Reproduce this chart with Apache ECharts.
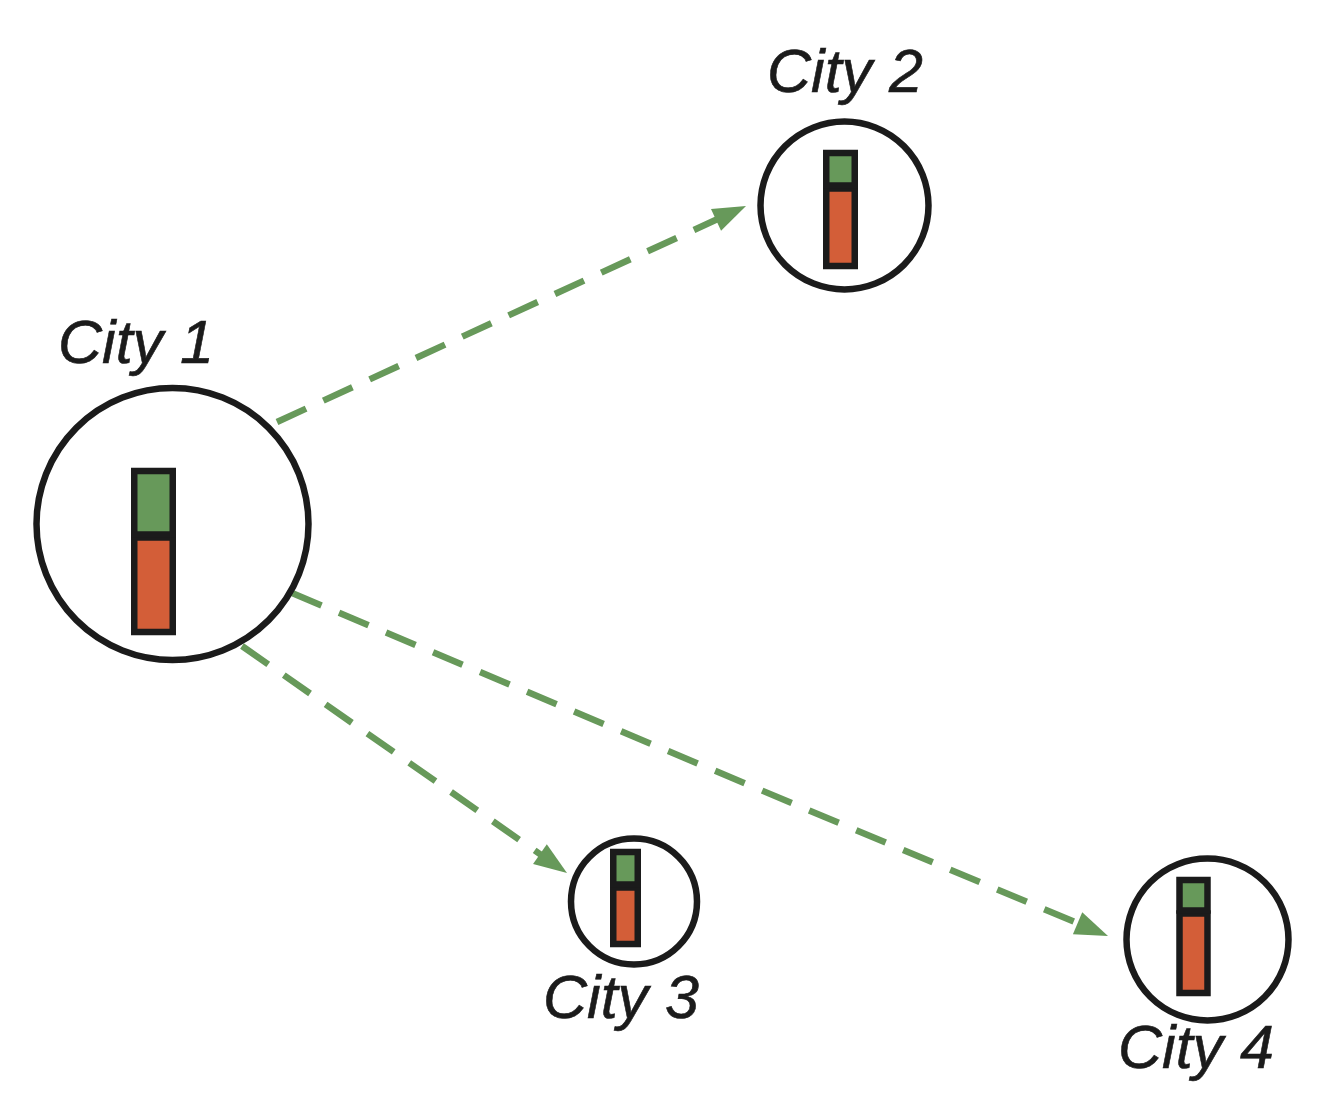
<!DOCTYPE html>
<html>
<head>
<meta charset="utf-8">
<title>City flows</title>
<script src="https://cdn.jsdelivr.net/npm/echarts/dist/echarts.min.js"></script>
<style>
html, body { margin: 0; padding: 0; background: #fff; }
#main { width: 1340px; height: 1120px; }
</style>
</head>
<body>
<div id="main"></div>
<script>
// cities, placed in a 1340 x 1120 map space (y grows downward)
var cities = ['City 1', 'City 2', 'City 3', 'City 4'];
var cityX = [172.5, 844.5, 634, 1207.5];
var cityY = [524, 205.5, 901.5, 939.5];
var cityRadius = [136, 84, 63, 81];

// stacked bar inside each city
var greenValues = [65, 34, 34, 32];
var redValues = [96, 79, 58, 81];
var barX = [153.5, 840.5, 625.5, 1193.5];
var barBase = [632, 266, 944, 993];
var barWidth = [38.5, 28.5, 24.5, 28];

// label anchors (centre x, baseline y)
var labelX = [136, 845, 621, 1196];
var labelY = [364, 93, 1019, 1069];

// flows out of City 1
var flowFrom = [[277, 422], [242, 646], [292, 593]];
var flowTo = [[746, 206], [567, 873], [1108, 936]];

var INK = '#1b1b1b';
var GREEN = '#67995a';
var RED = '#d35e38';

function renderCity(params, api) {
	var i = params.dataIndex;
	var c = api.coord([api.value(0), api.value(1)]);
	var r = api.size([cityRadius[i], 0])[0];
	var b = api.coord([barX[i], barBase[i]]);
	var w = api.size([barWidth[i], 0])[0];
	var hGreen = api.size([0, api.value(2)])[1];
	var hRed = api.size([0, api.value(3)])[1];
	var l = api.coord([labelX[i], labelY[i]]);
	var gap = 1.5;
	return {
		type: 'group',
		children: [{
			type: 'circle',
			shape: { cx: c[0], cy: c[1], r: r },
			style: { fill: '#fff', stroke: INK, lineWidth: 6.5 }
		}, {
			type: 'rect',
			shape: { x: b[0] - w / 2, y: b[1] - hRed + gap, width: w, height: hRed - gap },
			style: { fill: RED, stroke: INK, lineWidth: 6.5 }
		}, {
			type: 'rect',
			shape: { x: b[0] - w / 2, y: b[1] - hRed - hGreen, width: w, height: hGreen - gap },
			style: { fill: GREEN, stroke: INK, lineWidth: 6.5 }
		}, {
			type: 'text',
			x: l[0],
			y: l[1] - 18,
			style: {
				text: cities[i],
				font: 'italic 61px "Liberation Sans", Arial, sans-serif',
				fill: INK,
				stroke: INK,
				lineWidth: 0.6,
				align: 'center',
				verticalAlign: 'middle'
			}
		}]
	};
}

function renderFlow(params, api) {
	var p0 = api.coord([api.value(0), api.value(1)]);
	var p1 = api.coord([api.value(2), api.value(3)]);
	var dx = p1[0] - p0[0], dy = p1[1] - p0[1];
	var len = Math.sqrt(dx * dx + dy * dy);
	var ux = dx / len, uy = dy / len;
	var headLen = 33, headHalf = 12;
	var bx = p1[0] - ux * headLen, by = p1[1] - uy * headLen;
	return {
		type: 'group',
		children: [{
			type: 'line',
			shape: { x1: p0[0], y1: p0[1], x2: bx + ux * 3, y2: by + uy * 3 },
			style: { stroke: GREEN, lineWidth: 6.5, lineDash: [32, 19], fill: null }
		}, {
			type: 'polygon',
			shape: { points: [
				[p1[0], p1[1]],
				[bx - uy * headHalf, by + ux * headHalf],
				[bx + uy * headHalf, by - ux * headHalf]
			] },
			style: { fill: GREEN }
		}]
	};
}

var chart = echarts.init(document.getElementById('main'));

var cityData = cities.map(function (name, i) {
	return [cityX[i], cityY[i], greenValues[i], redValues[i]];
});
var flowData = flowFrom.map(function (f, i) {
	return [f[0], f[1], flowTo[i][0], flowTo[i][1]];
});

var option = {
	animation: false,
	backgroundColor: '#fff',
	grid: { left: 0, right: 0, top: 0, bottom: 0 },
	xAxis: { type: 'value', min: 0, max: 1340, show: false },
	yAxis: { type: 'value', min: 0, max: 1120, inverse: true, show: false },
	series: [{
		type: 'custom',
		name: 'flows',
		renderItem: renderFlow,
		encode: { x: [0, 2], y: [1, 3] },
		data: flowData,
		silent: true
	}, {
		type: 'custom',
		name: 'cities',
		renderItem: renderCity,
		encode: { x: 0, y: 1 },
		data: cityData,
		silent: true
	}]
};
chart.setOption(option);
</script>
</body>
</html>
